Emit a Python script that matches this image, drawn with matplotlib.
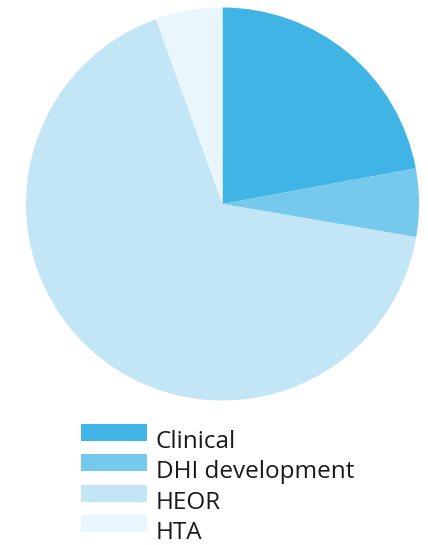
import matplotlib
matplotlib.use("Agg")
import matplotlib.pyplot as plt
from matplotlib.patches import Rectangle
from matplotlib.legend_handler import HandlerPatch

categories = ["Clinical", "DHI development", "HEOR", "HTA"]
values = [22.1, 5.6, 66.8, 5.5]
colors = ["#3fb4e5", "#74c9ec", "#c3e6f7", "#eaf6fd"]

plt.rcParams['font.family'] = ['Open Sans', 'DejaVu Sans']

W, H = 428, 545
fig = plt.figure(figsize=(W/100, H/100), dpi=100)
cx, cy, r = 222.5, 204, 196.5
ax = fig.add_axes([(cx - r)/W, (H - cy - r)/H, 2*r/W, 2*r/H])
wedges, _ = ax.pie(values, colors=colors, startangle=90, counterclock=False,
                   radius=1, wedgeprops=dict(linewidth=0))
ax.set_xlim(-1, 1); ax.set_ylim(-1, 1)
ax.set_aspect('equal')
ax.axis('off')


def raised(legend, orig_handle, xdescent, ydescent, width, height, fontsize):
    return Rectangle((-xdescent, -ydescent + 5.0), width, height)


fs = 17.5
leg = fig.legend(wedges, categories, loc='upper left',
                 bbox_to_anchor=(81/W, 1 - 430/H), frameon=False, fontsize=fs,
                 handlelength=2.7, handleheight=0.69, handletextpad=0.37,
                 labelspacing=0.26, borderpad=0, borderaxespad=0,
                 labelcolor='#1a1a1a',
                 handler_map={w: HandlerPatch(patch_func=raised) for w in wedges})

fig.savefig("out.png", dpi=100)
